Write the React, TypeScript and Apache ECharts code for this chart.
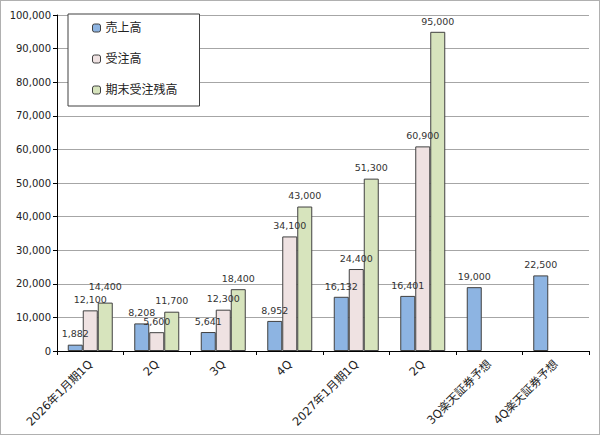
import React, { useEffect, useRef } from 'react';
import * as echarts from 'echarts';

const categories = [
  '2026年1月期1Q',
  '2Q',
  '3Q',
  '4Q',
  '2027年1月期1Q',
  '2Q',
  '3Q楽天証券予想',
  '4Q楽天証券予想',
];
const sales = [1882, 8208, 5641, 8952, 16132, 16401, 19000, 22500];
const orders = [12100, 5600, 12300, 34100, 24400, 60900, null, null];
const backlog = [14400, 11700, 18400, 43000, 51300, 95000, null, null];
const seriesNames = ['売上高', '受注高', '期末受注残高'];

const FONT = '"DejaVu Sans", "Noto Sans CJK JP", sans-serif';

const App: React.FC = () => {
  const chartRef = useRef<HTMLDivElement>(null);

  useEffect(() => {
    if (!chartRef.current) return;
    document.body.style.margin = '0';

    const chart = echarts.init(chartRef.current, undefined, { renderer: 'svg' });

    const label = {
      show: true,
      position: 'top' as const,
      distance: 6,
      fontSize: 9.5,
      color: '#333',
      fontFamily: FONT,
      formatter: (p: any) => Number(p.value).toLocaleString('en-US'),
    };

    // 1Q の期末受注残高ラベルは隣と重ならないよう少し上へ
    const withLift = (data: (number | null)[], idx: number, dist: number) =>
      data.map((v, i) => (i === idx ? { value: v, label: { distance: dist } } : v));

    const makeBar = (name: string, data: any[], color: string) => ({
      name,
      type: 'bar' as const,
      data,
      barWidth: 15,
      barGap: '0%',
      itemStyle: { color, borderColor: '#404040', borderWidth: 1 },
      label,
    });

    chart.setOption({
      animation: false,
      backgroundColor: '#fff',
      grid: { left: 56, right: 10, top: 14, bottom: 83 },
      legend: {
        orient: 'vertical',
        left: 67,
        top: 13,
        padding: [8, 22, 10, 24],
        itemGap: 19,
        itemWidth: 8,
        itemHeight: 8,
        itemStyle: { borderColor: '#404040', borderWidth: 1 },
        backgroundColor: '#fff',
        borderColor: '#404040',
        borderWidth: 1,
        textStyle: { fontSize: 12, color: '#222', fontFamily: FONT },
        data: seriesNames,
      },
      xAxis: {
        type: 'category',
        data: categories,
        axisLine: { lineStyle: { color: '#000', width: 1 } },
        axisTick: { show: true, length: 4, lineStyle: { color: '#000' } },
        axisLabel: {
          rotate: 45,
          interval: 0,
          fontSize: 11.5,
          color: '#222',
          fontFamily: FONT,
          margin: 11,
        },
      },
      yAxis: {
        type: 'value',
        min: 0,
        max: 100000,
        interval: 10000,
        axisLine: { show: true, lineStyle: { color: '#000', width: 1 } },
        axisTick: { show: true, length: 4, lineStyle: { color: '#000' } },
        axisLabel: {
          fontSize: 10,
          color: '#222',
          fontFamily: FONT,
          margin: 6,
          formatter: (v: number) => v.toLocaleString('en-US'),
        },
        splitLine: { lineStyle: { color: '#a6a6a6', width: 1 } },
      },
      series: [
        makeBar(seriesNames[0], sales, '#8DB4E2'),
        makeBar(seriesNames[1], orders, '#EFE2E2'),
        makeBar(seriesNames[2], withLift(backlog, 0, 11), '#D7E4BD'),
      ],
    });

    return () => {
      chart.dispose();
    };
  }, []);

  return (
    <div
      style={{
        width: 600,
        height: 435,
        boxSizing: 'border-box',
        border: '1px solid #b0b0b0',
      }}
    >
      <div ref={chartRef} style={{ width: 598, height: 433 }} />
    </div>
  );
};

export default App;
